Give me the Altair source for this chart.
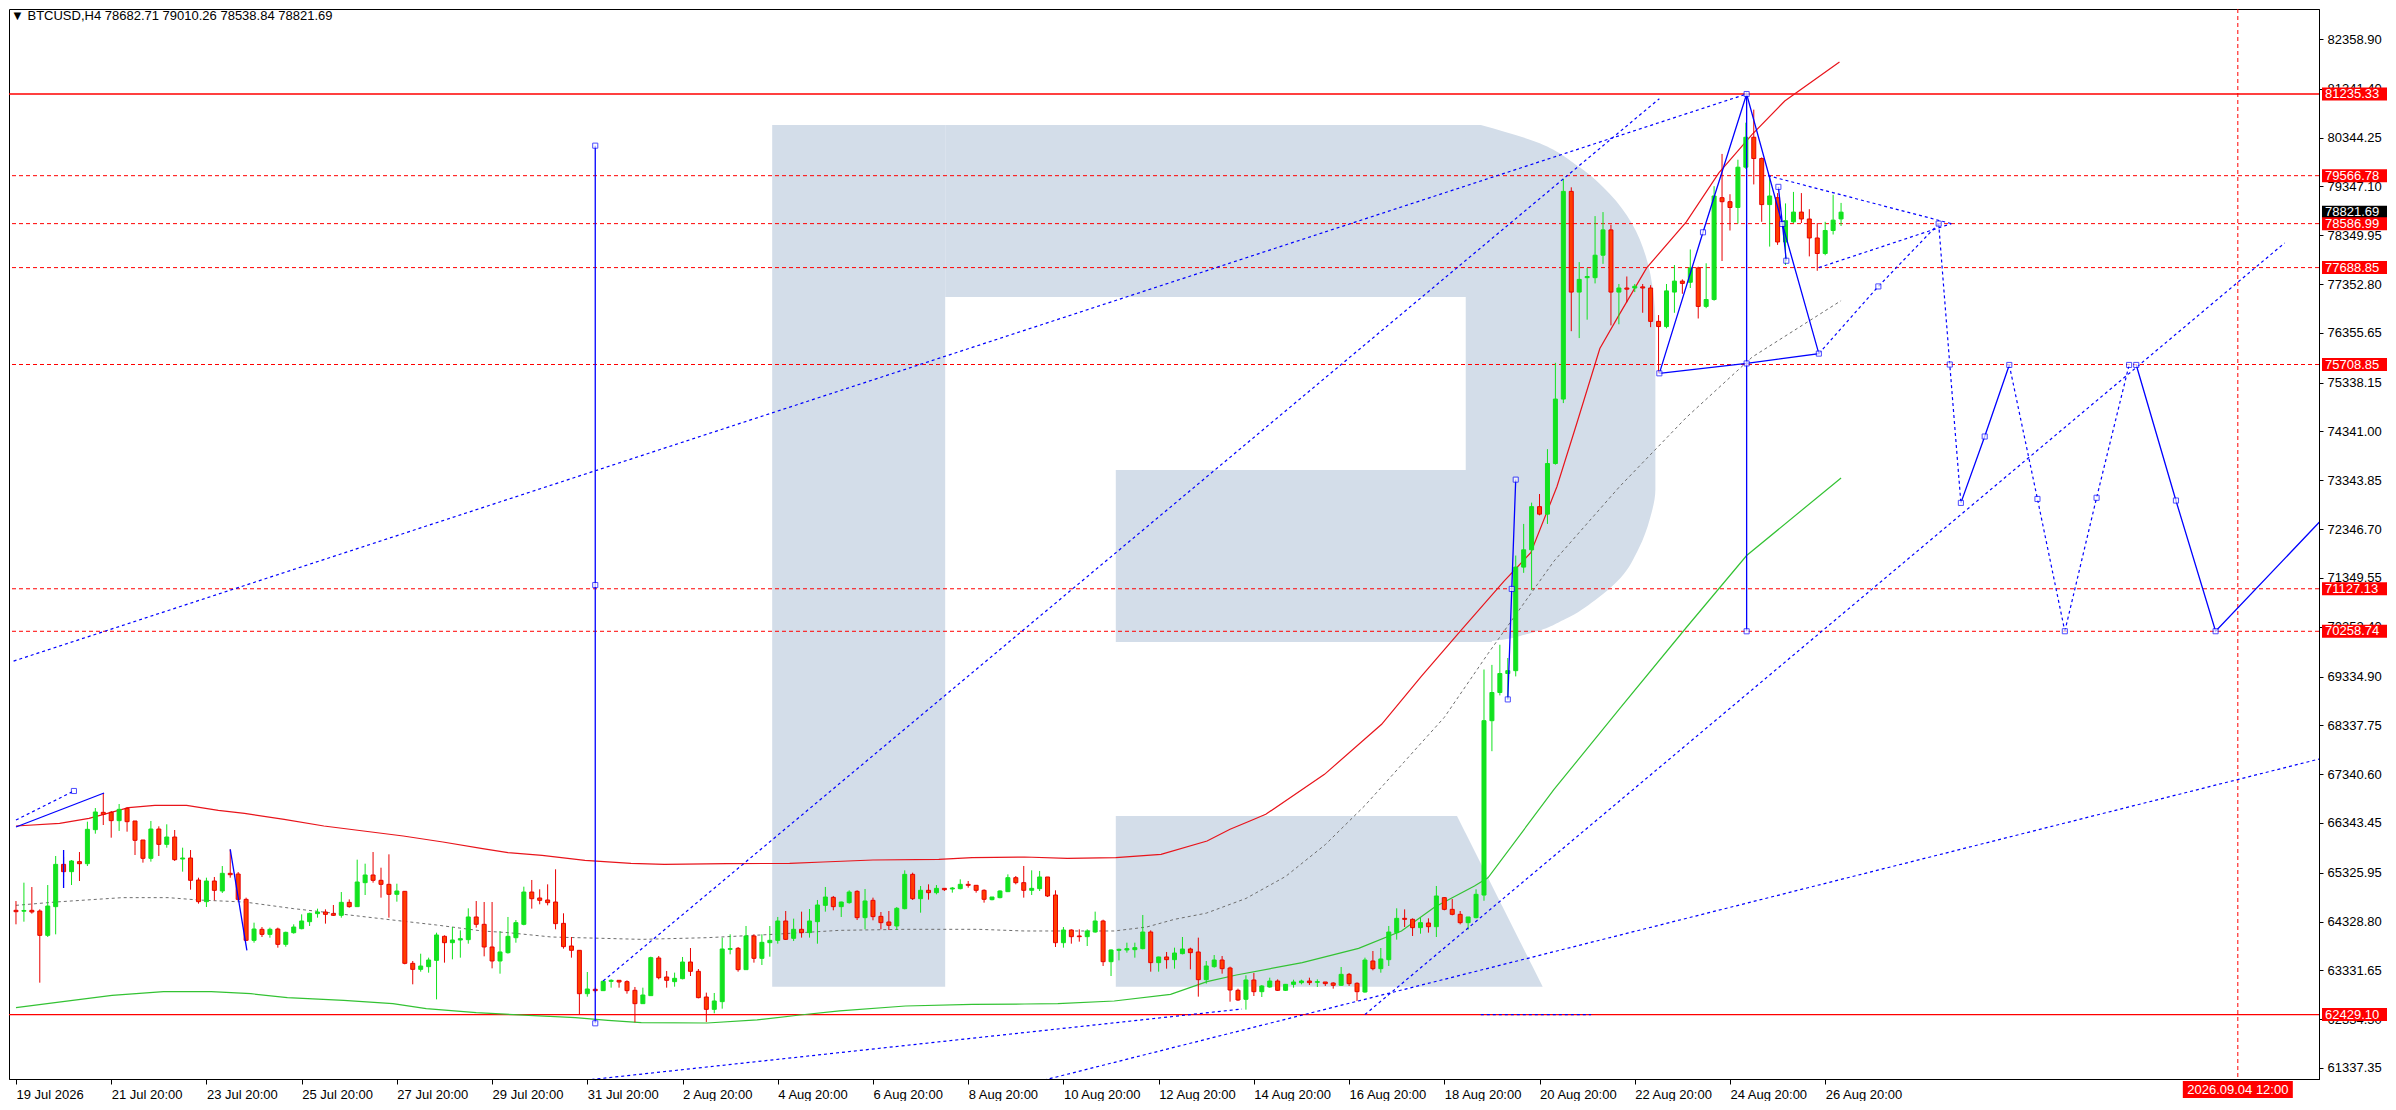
import altair as alt
import pandas as pd

# ---------------- candles (BTCUSD H4, bar 0 = 19 Jul 2026 20:00) ----------------
opens = [64558,64540,64558,64544,64047,64633,65497,65348,65552,65511,
         66206,66560,66560,66390,66642,66383,65995,65620,66219,65906,
         66056,65606,65627,65177,64735,65157,64953,65314,65300,64782,
         63945,64170,64067,64176,63863,64101,64183,64326,64490,64524,
         64490,64456,64721,64633,65123,65280,65171,65089,64885,64946,
         63475,63352,63407,63536,64027,63897,63952,63959,64422,64272,
         63809,63523,63693,63999,64272,64932,64810,64769,64728,64292,
         63829,63741,62855,62944,62917,63107,63128,63101,62924,62651,
         62815,63584,63196,63101,63162,63502,63312,62787,62535,62692,
         63761,63782,63346,64034,63577,63897,63945,64340,63986,64170,
         64102,64326,64660,64823,64633,64715,64946,64408,64762,64435,
         64320,64238,64592,65293,64796,64967,64919,65007,64994,65001,
         65089,65069,64967,64776,64817,64939,65225,65123,64967,65001,
         65239,64871,63897,64156,64034,64020,64115,64340,63509,63741,
         63748,63754,63775,64115,63489,63605,63550,63673,63768,63707,
         63141,63407,63543,63380,62924,62740,63135,62896,62992,63114,
         62924,63046,63080,63114,63087,63094,63073,63026,63250,63067,
         62889,63523,63366,63550,64102,64394,64374,64204,64299,64224,
         64817,64578,64476,64306,64408,64870,68432,69008,69396,69454,
         71570,71923,72805,72652,73686,75003,79246,77189,77483,77483,
         77942,78459,77189,77272,77272,77295,77272,76590,76484,77189,
         77413,77389,77683,76896,77037,79117,79035,78917,79740,80352,
         79917,78976,79117,78212,78624,78823,78682,78294,77977,78447,
         78682.71]
highs = [64748,65123,65034,64578,65075,65668,65650,65586,65749,66369,
         66648,66955,66587,66730,66669,66383,65995,66383,66274,66315,
         66199,65838,65790,65225,65225,65239,65463,65804,65341,64817,
         64306,64217,64204,64204,64122,64272,64476,64510,64592,64578,
         64667,64932,64782,65593,65511,65749,65429,65702,65102,64953,
         63523,63672,63591,64101,64047,64217,64149,64599,64748,64728,
         64728,64135,64422,64360,65041,65178,64987,65089,65396,64497,
         64013,63741,63298,62978,63128,63148,63128,63128,62992,62978,
         63611,63625,63319,63285,63605,63788,63359,62876,62869,64000,
         64068,63809,64238,64068,64068,64238,64422,64544,64388,64531,
         64585,64769,65035,64851,64735,64967,64967,64994,64817,64524,
         64544,64626,65375,65327,65055,65089,65075,65007,65035,65191,
         65157,65075,64987,64830,64967,65293,65259,65464,65375,65362,
         65239,64967,64217,64170,64170,64170,64531,64367,63761,63775,
         63897,63897,64463,64149,63611,63707,63795,64013,63795,64000,
         63523,63645,63625,63407,62958,63230,63278,63032,63182,63148,
         63053,63141,63141,63182,63148,63094,63087,63400,63278,63087,
         63591,63727,63788,64238,64599,64578,64394,64408,64394,65055,
         64830,64789,64544,64422,64987,69478,69572,69984,69713,71806,
         72452,72887,73063,73980,75743,79505,79329,77801,77683,78741,
         78823,78565,77354,77507,77354,77354,77330,76719,77354,77742,
         77448,78059,77707,77777,79352,80011,79188,79893,80650,80916,
         79940,79540,79211,79000,79235,79211,78882,78600,78624,79176,
         79010.26]
lows = [64272,64326,64490,63080,64013,64067,65250,65075,65157,65463,
        66124,66301,66042,66179,66165,65688,65532,65552,65668,65838,
        65566,65348,64980,64694,64626,64762,64912,65225,64748,63931,
        63897,64013,63999,63795,63815,64081,64170,64238,64408,64286,
        64442,64408,64612,64633,64871,65123,64817,64408,64735,63455,
        63046,63305,63284,62739,63489,63557,63591,63877,64204,63618,
        63373,63264,63673,63897,64252,64592,64681,64660,64170,63775,
        63591,62433,62794,62876,62910,62978,62978,62855,62270,62651,
        62815,63148,62978,62998,63148,63216,62760,62277,62454,62549,
        63659,63305,63346,63489,63441,63611,63877,63952,63931,64000,
        64000,63877,64531,64558,64422,64694,64360,64170,64354,64170,
        64156,64156,64578,64769,64510,64776,64885,64953,64919,64987,
        65021,64919,64715,64762,64803,64932,65089,64817,64871,64953,
        64830,63809,63795,63877,63918,63829,64102,63421,63216,63536,
        63693,63591,63761,63305,63305,63366,63366,63659,63352,62794,
        63060,63387,63264,62692,62706,62529,62808,62787,62978,62910,
        62910,62978,63046,63032,62992,63012,62958,63012,63012,62706,
        62876,63332,63284,63421,63959,64217,64034,64081,64102,64013,
        64558,64456,64272,64163,64394,64753,67809,68949,68867,69337,
        71453,71100,72628,72452,73663,74921,76390,76249,76625,77366,
        77765,76508,76531,76978,77189,76766,76472,75532,76449,76766,
        77154,77272,76649,76860,77013,77824,78447,78588,79705,79388,
        78624,78118,78153,77742,78600,78600,77918,77624,77942,78365,
        78538.84]
closes = [64530,64555,64524,64047,64646,65497,65348,65566,65511,66213,
          66567,66519,66390,66621,66369,65988,65620,66219,65906,66056,
          65593,65627,65171,64735,65157,64966,65314,65286,64782,63945,
          64176,64067,64170,63863,64108,64217,64340,64496,64524,64476,
          64456,64721,64633,65137,65280,65171,65089,64885,64953,63475,
          63352,63420,63543,64054,63897,63952,63979,64422,64272,63809,
          63523,63707,64027,64306,64932,64796,64762,64715,64286,63816,
          63741,62855,62951,62917,63107,63128,63094,62917,62651,62828,
          63591,63182,63128,63169,63502,63312,62774,62535,62706,63768,
          63775,63346,64034,63577,63904,63945,64340,63965,64170,64102,
          64340,64667,64830,64633,64728,64932,64408,64749,64429,64306,
          64252,64599,65293,64796,64967,64919,65007,64980,65014,65089,
          65069,64967,64783,64830,64953,65225,65123,64967,65007,65239,
          64851,63897,64156,64020,64020,64136,64340,63509,63748,63761,
          63775,63795,64115,63489,63605,63550,63686,63768,63693,63141,
          63421,63543,63366,62930,62726,63135,62896,63012,63114,62924,
          63046,63094,63114,63080,63101,63060,63026,63250,63060,62896,
          63543,63366,63564,64115,64394,64374,64204,64306,64224,64851,
          64578,64476,64306,64422,64885,68432,69008,69396,69454,71570,
          71923,72805,72652,73686,75003,79246,77189,77448,77507,77942,
          78459,77189,77272,77248,77307,77272,76590,76484,77213,77413,
          77366,77683,76896,77037,79152,79035,78917,79740,80352,79917,
          78976,79152,78212,78647,78823,78682,78294,77977,78447,78659,
          78821.69]

# time axis labels, one every 12 bars (2 days)
time_labels = ['19 Jul 2026', '21 Jul 20:00', '23 Jul 20:00', '25 Jul 20:00', '27 Jul 20:00',
               '29 Jul 20:00', '31 Jul 20:00', '2 Aug 20:00', '4 Aug 20:00', '6 Aug 20:00',
               '8 Aug 20:00', '10 Aug 20:00', '12 Aug 20:00', '14 Aug 20:00', '16 Aug 20:00',
               '18 Aug 20:00', '20 Aug 20:00', '22 Aug 20:00', '24 Aug 20:00', '26 Aug 20:00']
price_ticks = [82358.90, 81341.40, 80344.25, 79347.10, 78349.95, 77352.80, 76355.65,
               75338.15, 74341.00, 73343.85, 72346.70, 71349.55, 70352.40, 69334.90,
               68337.75, 67340.60, 66343.45, 65325.95, 64328.80, 63331.65, 62334.50, 61337.35]

# moving averages (bar index, price)
red_ma_i = [0,5.5,9.2,14.2,17.5,21.5,25.5,28.8,33.8,38.8,43.8,48.8,53.8,58.8,62,66.3,71.7,77.5,81.7,
            89.6,97.5,101.7,108,116.3,120.5,127.1,132.5,138.6,144.3,150.1,153,155.5,157.5,164.9,172.1,
            177.1,182.1,187.5,190.9,194.2,196.7,199.6,202.1,205.5,210.5,214.6,218.8,222.9,229.8]
red_ma_p = [66281,66335,66437,66655,66703,66703,66601,66539,66417,66281,66179,66076,65954,65818,65736,
            65682,65579,65518,65498,65511,65518,65545,65586,65600,65634,65647,65620,65634,65702,65974,
            66213,66383,66519,67336,68358,69337,70277,71277,71864,73216,74509,76037,76743,77683,78624,
            79623,80410,81092,81889]
gray_ma_i = [0,5,13.4,19.2,23,28.8,35,41.3,46.7,53,58.8,62,67.5,78.8,87.1,95.5,103.8,112.1,121.3,127.1,
             138.4,142.5,146,150,155,160,165,170,175,180,185.5,193.8,202.1,210.5,218.8,230]
gray_ma_p = [64660,64728,64817,64817,64769,64728,64592,64476,64374,64258,64135,64102,64013,63965,63999,
             64068,64149,64170,64170,64136,64136,64217,64374,64500,64800,65250,65900,66700,67600,68500,
             69800,71688,73216,74627,75861,77013]
green_ma_i = [0,5.9,12.1,18.6,24.6,29.6,34.2,41.3,47.5,51.7,58,64.6,70.5,74.6,78.8,87.1,93.4,98.8,103.8,
              112.1,120.5,127.1,131.3,138.4,145.5,150.1,153.8,162.1,169.2,174.6,178.8,183.8,185.5,193.8,
              202.1,210.5,218.1,230]
green_ma_p = [62569,62692,62821,62896,62896,62855,62774,62719,62651,62549,62467,62413,62365,62311,62263,
              62256,62318,62420,62502,62603,62637,62644,62651,62706,62842,63100,63237,63489,63782,64136,
              64626,65055,65223,67022,68679,70336,71806,73392]

# horizontal levels
levels_solid = [81235.33, 62429.10]
levels_dashed = [79566.78, 78586.99, 77688.85, 75708.85, 71127.13, 70258.74]
last_price = 78821.69
forecast_bar = 280
forecast_label = '2026.09.04 12:00'
title_text = '\u25bc BTCUSD,H4  78682.71 79010.26 78538.84 78821.69'

# drawn objects: (name, style, [(bar, price), ...])
drawings = [
    ('a', 'dot', [(-0.3, 69650), (218.1, 81235.33)]),
    ('b', 'dot', [(74, 63114), (207.1, 81140)]),
    ('c1', 'dot', [(65, 60969), (154.5, 62542)]),
    ('c2', 'dot', [(126.6, 60969), (290.25, 67649)]),
    ('d', 'dot', [(170, 62429.10), (285.9, 78192)]),
    ('e', 'dot', [(0, 66403), (7.3, 66996)]),
    ('tu', 'dot', [(220.8, 79566.78), (243.9, 78586.99)]),
    ('tl', 'dot', [(227.2, 77688.85), (243.9, 78586.99)]),
    ('tx', 'dot', [(227.2, 75932), (234.7, 77304), (242.3, 78587)]),
    ('f1', 'dot', [(242.3, 78587), (243.7, 75708.85), (245.1, 72882)]),
    ('f3', 'dot', [(251.2, 75700), (254.75, 72962), (258.2, 70260)]),
    ('f4', 'dot', [(258.2, 70260), (262.2, 72986), (266.3, 75700)]),
    ('g', 'dot', [(184.6, 62429.10), (198.5, 62429.10)]),
    ('s1', 'solid', [(0, 66260), (11.1, 66955)]),
    ('s2', 'solid', [(6, 65790), (6, 65014)]),
    ('s3', 'solid', [(27, 65804), (29.1, 63741)]),
    ('v1', 'solid', [(73, 80180), (73, 62250)]),
    ('s5', 'solid', [(188, 68867), (188.5, 71124), (189, 73357)]),
    ('tri', 'solid', [(207.1, 75529), (212.6, 78410), (218.1, 81235.33), (222.6, 78580),
                      (227.2, 75932), (218.1, 75731), (207.1, 75529)]),
    ('v2', 'solid', [(218.1, 81235.33), (218.1, 70258.74)]),
    ('s8', 'solid', [(222.1, 79338), (223.1, 77829)]),
    ('f2', 'solid', [(245.1, 72882), (248.1, 74238), (251.2, 75700)]),
    ('f5', 'solid', [(267.2, 75700), (272.2, 72930), (277.2, 70260), (290.6, 72543)]),
]
marker_pts = [(73, 80180), (73, 71204), (73, 62250), (188, 68867), (188.5, 71124), (189, 73357),
              (207.1, 75529), (212.6, 78410), (218.1, 81235.33), (218.1, 75731), (227.2, 75932),
              (222.6, 78580), (218.1, 70258.74), (222.1, 79338), (223.1, 77829), (242.3, 78587),
              (234.7, 77304), (243.7, 75708.85), (245.1, 72882), (248.1, 74238), (251.2, 75700),
              (254.75, 72962), (258.2, 70260), (262.2, 72986), (266.3, 75700), (267.2, 75700),
              (272.2, 72930), (277.2, 70260), (7.3, 66996)]

# watermark "R" pieces (bar, price)
logo_rects = [(95.3, 117.1, 62997, 80602), (117.1, 184.6, 77088, 80602), (138.6, 186.0, 70040, 73553)]
logo_bowl_p = [70040, 70060, 70209, 70509, 70889, 71347, 71948, 72553, 73155, 76557, 77162, 77917,
               78600, 79202, 79732, 80261, 80602]
logo_bowl_i = [182.7, 186.0, 190.6, 195.25, 198.95, 202.2, 204.5, 205.9, 206.6, 206.6, 206.35, 205.4,
               203.6, 200.8, 197.1, 191.5, 184.6]
logo_bowl_left = 182.7
logo_leg_p = [62997, 66485]
logo_leg_i = [192.4, 181.6]
logo_leg_left = 138.6

# ---------------- styling ----------------
W, H = 2310, 1070
FONT = 'Liberation Sans'
GREEN = '#12e21f'
RED_FILL = '#ff3d00'
RED_LINE = '#e80000'
BLUE = '#0000ff'
LOGO = '#d3dde9'

xs = alt.Scale(domain=[-0.25, 289.6], zero=False, nice=False)
ys = alt.Scale(domain=[61112, 82972], zero=False, nice=False)
lab_js = '[' + ','.join("'%s'" % t for t in time_labels) + ']'
x_axis = alt.Axis(values=list(range(0, 12 * len(time_labels), 12)),
                  labelExpr=lab_js + '[round(datum.value/12)]', title=None, grid=False,
                  labelAlign='left', labelBaseline='top', labelPadding=4, tickSize=5,
                  labelFontSize=13, labelFont=FONT, labelColor='black', domainColor='black',
                  tickColor='black', labelFlush=False, labelOverlap=False)
y_axis = alt.Axis(orient='right', values=price_ticks, format='.2f', title=None, grid=False,
                  labelFontSize=13, labelFont=FONT, labelColor='black', domainColor='black',
                  tickColor='black', tickSize=4, labelPadding=4, labelOverlap=False,
                  labelFlush=False)


def X(f):
    return alt.X(f, type='quantitative', scale=xs, axis=x_axis)


def Y(f):
    return alt.Y(f, type='quantitative', scale=ys, axis=y_axis)


candles = pd.DataFrame({'i': list(range(len(opens))), 'o': opens, 'h': highs, 'l': lows, 'c': closes})
up = 'datum.c >= datum.o'

# logo
logo_r = pd.DataFrame(logo_rects, columns=['i1', 'i2', 'p1', 'p2'])
logo_rect_layer = alt.Chart(logo_r).mark_rect(color=LOGO, clip=True).encode(
    x=X('i1'), x2='i2', y=Y('p1'), y2='p2')
bowl = pd.DataFrame({'p': logo_bowl_p, 'ir': logo_bowl_i, 'il': [logo_bowl_left] * len(logo_bowl_p)})
bowl_layer = alt.Chart(bowl).mark_area(orient='horizontal', interpolate='monotone',
                                       color=LOGO, clip=True).encode(
    y=Y('p'), x=X('il'), x2='ir')
leg = pd.DataFrame({'p': logo_leg_p, 'ir': logo_leg_i, 'il': [logo_leg_left] * len(logo_leg_p)})
leg_layer = alt.Chart(leg).mark_area(orient='horizontal', color=LOGO, clip=True).encode(
    y=Y('p'), x=X('il'), x2='ir')

# levels
solid_lv = alt.Chart(pd.DataFrame({'p': levels_solid})).mark_rule(color='#ff0000', strokeWidth=1.3).encode(y=Y('p'))
dash_lv = alt.Chart(pd.DataFrame({'p': levels_dashed})).mark_rule(
    color='#ff0000', strokeWidth=1, strokeDash=[4, 3]).encode(y=Y('p'))
vline = alt.Chart(pd.DataFrame({'t': [forecast_bar]})).mark_rule(
    color='#ff0000', strokeWidth=1, strokeDash=[4, 3]).encode(x=X('t'))

# moving averages
red_ma = alt.Chart(pd.DataFrame({'i': red_ma_i, 'p': red_ma_p})).mark_line(
    color='#e8141b', strokeWidth=1.2, clip=True).encode(x=X('i'), y=Y('p'))
gray_ma = alt.Chart(pd.DataFrame({'i': gray_ma_i, 'p': gray_ma_p})).mark_line(
    color='#6e6e6e', strokeWidth=1, strokeDash=[3, 3], clip=True).encode(x=X('i'), y=Y('p'))
green_ma = alt.Chart(pd.DataFrame({'i': green_ma_i, 'p': green_ma_p})).mark_line(
    color='#33c233', strokeWidth=1.2, clip=True).encode(x=X('i'), y=Y('p'))

# candles
wicks = alt.Chart(candles).mark_rule(strokeWidth=1, clip=True).encode(
    x=X('i'), y=Y('l'), y2='h',
    color=alt.condition(up, alt.value(GREEN), alt.value(RED_LINE)))
bodies = alt.Chart(candles).mark_bar(size=4, strokeWidth=1, clip=True).encode(
    x=X('i'), y=Y('o'), y2='c',
    fill=alt.condition(up, alt.value(GREEN), alt.value(RED_FILL)),
    stroke=alt.condition(up, alt.value(GREEN), alt.value(RED_LINE)))

# drawings
rows = []
for name, style, pts in drawings:
    for k, (bi, pr) in enumerate(pts):
        rows.append({'id': name, 'style': style, 'seq': k, 'i': bi, 'p': pr})
dr = pd.DataFrame(rows)
dr_solid = alt.Chart(dr[dr['style'] == 'solid']).mark_line(color=BLUE, strokeWidth=1.3, clip=True).encode(
    x=X('i'), y=Y('p'), detail='id:N', order='seq:Q')
dr_dot = alt.Chart(dr[dr['style'] == 'dot']).mark_line(
    color=BLUE, strokeWidth=1.2, strokeDash=[3, 3], clip=True).encode(
    x=X('i'), y=Y('p'), detail='id:N', order='seq:Q')
mk = pd.DataFrame(marker_pts, columns=['i', 'p'])
markers = alt.Chart(mk).mark_square(size=26, filled=True, fill='white', stroke=BLUE,
                                    strokeWidth=1, clip=True).encode(x=X('i'), y=Y('p'))

# title
title = alt.Chart(pd.DataFrame({'t': [title_text]})).mark_text(
    align='left', baseline='middle', fontSize=13, font=FONT, color='black').encode(
    x=alt.value(2), y=alt.value(7), text='t:N')

# right price labels
lab = pd.DataFrame({'p': levels_solid + levels_dashed,
                    'txt': ['%.2f' % v for v in levels_solid + levels_dashed]})
last = pd.DataFrame({'p': [last_price], 'txt': ['%.2f' % last_price]})
last_box = alt.Chart(last).mark_rect(color='black', yOffset=-6.5, y2Offset=6.5).encode(
    x=alt.value(W + 3), x2=alt.value(W + 68), y=Y('p'), y2='p')
last_txt = alt.Chart(last).mark_text(align='left', baseline='middle', fontSize=13, font=FONT,
                                     color='white').encode(x=alt.value(W + 6), y=Y('p'), text='txt:N')
lab_box = alt.Chart(lab).mark_rect(color='#ff0000', yOffset=-6.5, y2Offset=6.5).encode(
    x=alt.value(W + 3), x2=alt.value(W + 68), y=Y('p'), y2='p')
lab_txt = alt.Chart(lab).mark_text(align='left', baseline='middle', fontSize=13, font=FONT,
                                   color='white').encode(x=alt.value(W + 6), y=Y('p'), text='txt:N')

# bottom forecast time label
fl = pd.DataFrame({'t': [forecast_bar], 'txt': [forecast_label]})
fl_box = alt.Chart(fl).mark_rect(color='#ff0000', xOffset=-55, x2Offset=55).encode(
    x=X('t'), x2='t', y=alt.value(H + 2), y2=alt.value(H + 19))
fl_txt = alt.Chart(fl).mark_text(align='center', baseline='middle', fontSize=13, font=FONT,
                                 color='white').encode(x=X('t'), y=alt.value(H + 11), text='txt:N')

chart = alt.layer(
    logo_rect_layer, bowl_layer, leg_layer,
    solid_lv, dash_lv, vline,
    red_ma, gray_ma, green_ma,
    wicks, bodies,
    dr_dot, dr_solid, markers,
    title,
    last_box, last_txt, lab_box, lab_txt,
    fl_box, fl_txt,
).properties(width=W, height=H, padding=0, background='white').configure_view(
    stroke='black', strokeWidth=1)

chart.save('out.html', embed_options={'renderer': 'svg', 'actions': False})
